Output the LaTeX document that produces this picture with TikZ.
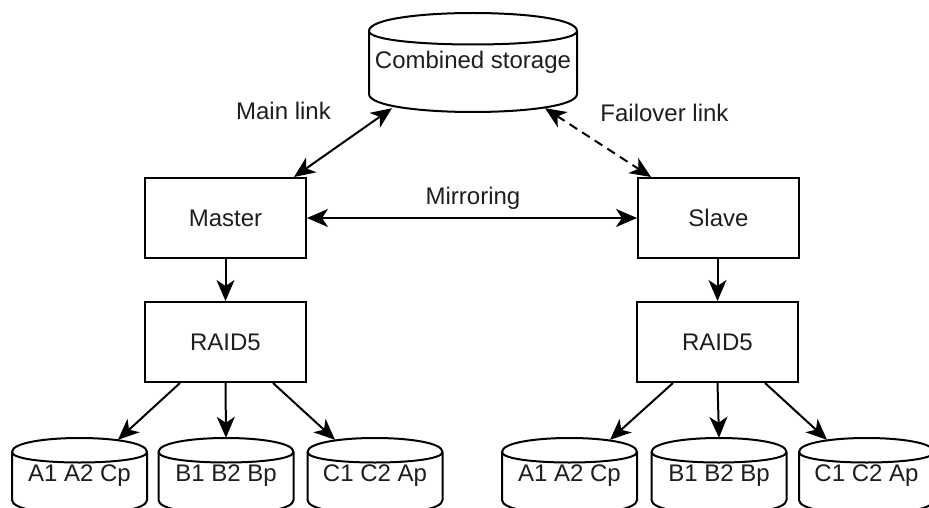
\documentclass[tikz,border=0pt]{standalone}
\usepackage{fontspec}
\setmainfont{Liberation Sans}
\usetikzlibrary{arrows.meta,calc}

\definecolor{ink}{HTML}{1E1E1E}

% Cylinder outline (top edge #3, left edge #2, width #4, height #5, cap depth #6)
% followed by a named node covering its body that carries the text #7.
\newcommand\cylnode[7]{%
  \filldraw[cylline] (#2,{#3+#6})
    .. controls (#2,{#3-#6/3}) and ({#2+#4},{#3-#6/3}) .. ({#2+#4},{#3+#6})
    -- ({#2+#4},{#3+#5-#6})
    .. controls ({#2+#4},{#3+#5+#6/3}) and (#2,{#3+#5+#6/3}) .. (#2,{#3+#5-#6})
    -- cycle;
  \draw[cylline] (#2,{#3+#6})
    .. controls (#2,{#3+2*#6}) and ({#2+#4},{#3+2*#6}) .. ({#2+#4},{#3+#6});
  \node[cyltext, minimum width=#4pt, minimum height=#5pt] (#1)
    at ({#2+#4/2},{#3+#5/2}) {#7};
}

\tikzset{
  tipshape/.style={Stealth[length=21pt, width=18pt, inset=6pt]},
  txt/.style={font=\fontsize{24}{28}\selectfont, text=ink, inner sep=0pt},
  box/.style={txt, draw=black, line width=2pt, fill=white,
              minimum width=161pt, minimum height=80pt},
  cylline/.style={draw=black, fill=white, line width=2pt},
  cyltext/.style={txt, draw=none},
  lbl/.style={txt},
  conn/.style={draw=black, line width=2pt, -{Stealth[length=21pt, width=18pt, inset=6pt]}},
  biconn/.style={conn, {Stealth[length=21pt, width=18pt, inset=6pt]}-{Stealth[length=21pt, width=18pt, inset=6pt]}},
}

\begin{document}
\begin{tikzpicture}[x=1pt, y=-1pt]
  \useasboundingbox (0,0) rectangle (929,508);
  \fill[white] (0,0) rectangle (929,508);
  \clip (0,0) rectangle (929,508);

  % shared storage
  \cylnode{storage}{369}{13}{208}{99}{18}{Combined storage}

  % controllers
  \node[box] (master) at (225.5,218) {Master};
  \node[box] (slave)  at (718.5,218) {Slave};
  \node[box] (raidL)  at (225.5,342) {RAID5};
  \node[box] (raidR)  at (717.5,342) {RAID5};

  % disks of the left array
  \cylnode{aL}{12}{438}{135}{76}{14}{A1 A2 Cp}
  \cylnode{bL}{158.5}{438}{135}{76}{14}{B1 B2 Bp}
  \cylnode{cL}{307.5}{438}{135}{76}{14}{C1 C2 Ap}

  % disks of the right array
  \cylnode{aR}{502}{438}{135}{76}{14}{A1 A2 Cp}
  \cylnode{bR}{651.5}{438}{135}{76}{14}{B1 B2 Bp}
  \cylnode{cR}{799}{438}{135}{76}{14}{C1 C2 Ap}

  % links to the shared storage
  \draw[biconn] ($(master.north east)+(-13,0)$) -- ($(storage.south)+(-81,-4)$);
  \draw[biconn, dash pattern=on 9pt off 6pt] ($(storage.south)+(72,-4)$) -- ($(slave.north west)+(14,0)$);
  \draw[biconn] (master.east) -- (slave.west);

  \node[lbl] (lmain) at (283.5,111) {Main link};
  \node[lbl] (lfail) at (664.5,113) {Failover link};
  \node[lbl] (lmirr) at (473,198) {Mirroring};

  % controllers to their arrays
  \draw[conn] (master.south) -- (raidL.north);
  \draw[conn] (slave.south -| raidR.north) -- (raidR.north);

  \draw[conn] ($(raidL.south)+(-45.5,0)$) -- ($(aL.north)+(38.5,2)$);
  \draw[conn] (raidL.south) -- (bL.north);
  \draw[conn] ($(raidL.south)+(47.5,0)$) -- ($(cL.north)+(-40,2)$);

  \draw[conn] ($(raidR.south)+(-44.5,0)$) -- ($(aR.north)+(40.5,2)$);
  \draw[conn] (raidR.south) -- (bR.north);
  \draw[conn] ($(raidR.south)+(47.5,0)$) -- ($(cR.north)+(-39.5,2)$);
\end{tikzpicture}
\end{document}
